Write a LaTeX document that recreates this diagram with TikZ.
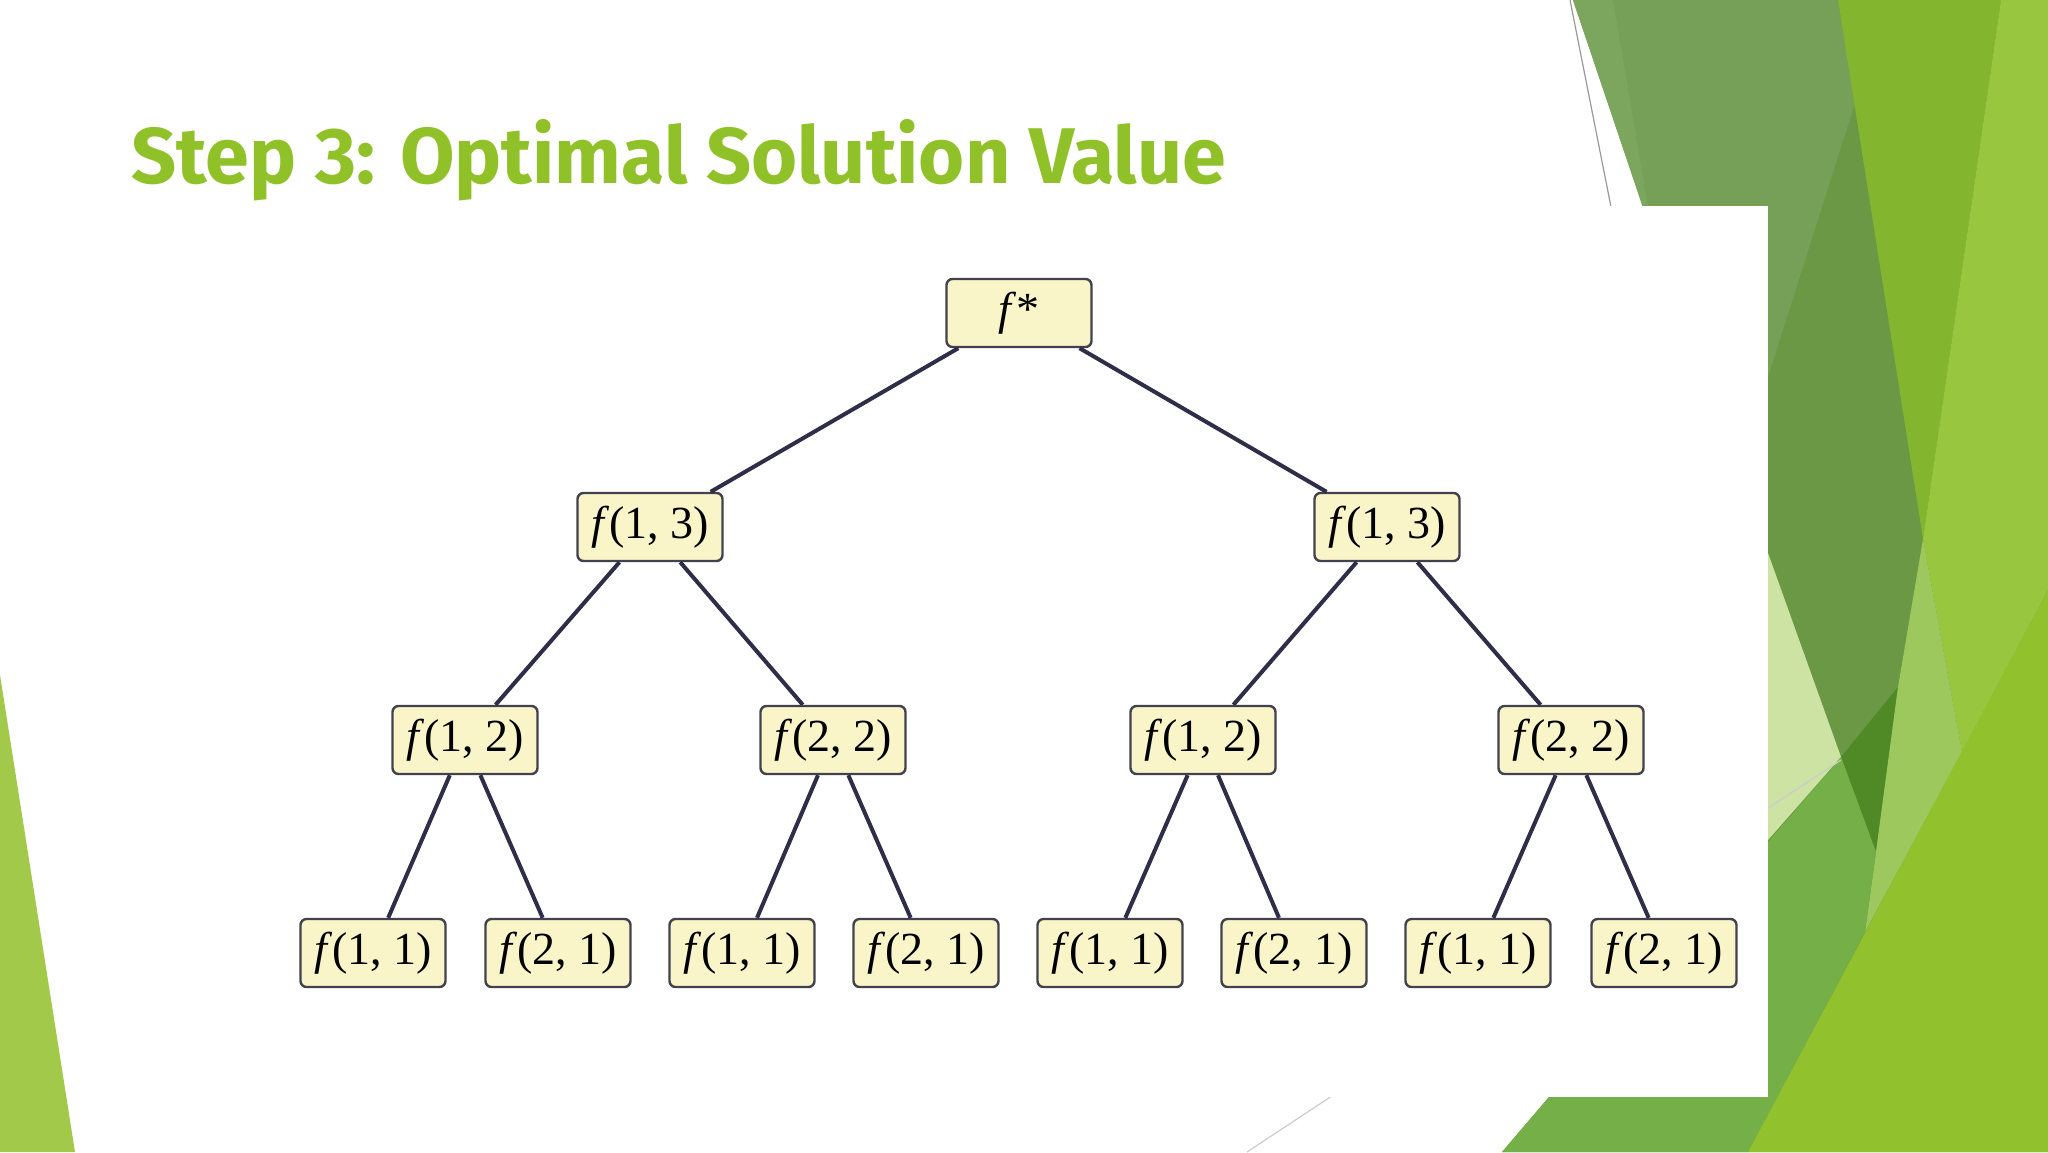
\documentclass[tikz,border=0pt]{standalone}
\usepackage{fontspec}
\setmainfont{Liberation Serif}
\newfontfamily\titlefont{Fira Sans}
\definecolor{titlegreen}{RGB}{144,193,40}
\definecolor{boxfill}{RGB}{249,245,200}
\definecolor{boxedge}{RGB}{66,66,78}
\definecolor{edgecol}{RGB}{46,46,72}
\definecolor{mutedgreen}{RGB}{118,159,88}
\definecolor{mutedlight}{RGB}{124,166,94}
\definecolor{darkgreen}{RGB}{106,152,68}
\definecolor{deepgreen}{RGB}{80,138,38}
\definecolor{palegreen}{RGB}{205,227,163}
\definecolor{brightgreen}{RGB}{132,181,47}
\definecolor{limegreen}{RGB}{152,198,62}
\definecolor{sagegreen}{RGB}{157,200,94}
\definecolor{midgreen}{RGB}{116,175,72}
\definecolor{lowgreen}{RGB}{146,193,46}
\definecolor{wedgegreen}{RGB}{162,201,74}
\begin{document}
\begin{tikzpicture}[x=0.5pt,y=-0.5pt,line join=bevel,
  fbox/.style={draw=boxedge,fill=boxfill,rounded corners=3pt,line width=1.2pt,
    minimum width=72.5pt,minimum height=34pt,inner sep=0pt,
    font=\fontsize{23}{23}\selectfont},
  tree/.style={draw=edgecol,line width=2pt}]
\useasboundingbox (0,0) rectangle (2048,1152);
\fill[white] (0,0) rectangle (2048,1152);
%% background facets
\fill[darkgreen] (1700,0) -- (2048,0) -- (2048,1152) -- (1502,1152) -- (1768,840) -- (1700,377) -- cycle;
\fill[mutedgreen] (1573,0) -- (1838,0) -- (1855,103) -- (1768,377) -- (1700,377) -- cycle;
\fill[mutedlight] (1573,0) -- (1613,0) -- (1648,207) -- (1643,207) -- cycle;
\fill[deepgreen] (1841,757) -- (1898,687) -- (1876,852) -- cycle;
\fill[palegreen] (1768,553) -- (1841,757) -- (1768,840) -- cycle;
\fill[brightgreen] (1838,0) -- (2001,0) -- (1923,539) -- cycle;
\fill[limegreen] (2001,0) -- (2048,0) -- (2048,590) -- (1962,752) -- (1923,539) -- cycle;
\fill[sagegreen] (1923,539) -- (1962,752) -- (1865,932) -- (1876,852) -- (1898,687) -- cycle;
\fill[midgreen] (1841,757) -- (1876,852) -- (1865,932) -- (1748,1152) -- (1502,1152) -- cycle;
\fill[lowgreen] (2048,590) -- (2048,1152) -- (1748,1152) -- cycle;
\fill[wedgegreen] (0,675) -- (75,1152) -- (0,1152) -- cycle;
\draw[gray!80,line width=0.6pt] (1570,0) -- (1611,207);
\draw[gray!40,line width=0.6pt] (1247,1152) -- (1841,760);
%% the picture itself
\fill[white] (250,206) rectangle (1768,1097);
%% title
\node[anchor=base west,inner sep=0pt,text=titlegreen,
  font=\titlefont\bfseries\fontsize{39.5}{40}\selectfont] (title) at (131,183)
  {Step 3: Optimal Solution Value};
%% Node: root
\node[fbox] (root) at (1019,313) {\textit{f}*};
%% Node: level 1
\node[fbox] (f13a) at (650,527) {\textit{f}(1, 3)};
\node[fbox] (f13b) at (1387,527) {\textit{f}(1, 3)};
%% Node: level 2
\node[fbox] (f12a) at (465,740) {\textit{f}(1, 2)};
\node[fbox] (f22a) at (833,740) {\textit{f}(2, 2)};
\node[fbox] (f12b) at (1203,740) {\textit{f}(1, 2)};
\node[fbox] (f22b) at (1571,740) {\textit{f}(2, 2)};
%% Node: leaves
\node[fbox] (f11a) at (373,953) {\textit{f}(1, 1)};
\node[fbox] (f21a) at (558,953) {\textit{f}(2, 1)};
\node[fbox] (f11b) at (742,953) {\textit{f}(1, 1)};
\node[fbox] (f21b) at (926,953) {\textit{f}(2, 1)};
\node[fbox] (f11c) at (1110,953) {\textit{f}(1, 1)};
\node[fbox] (f21c) at (1294,953) {\textit{f}(2, 1)};
\node[fbox] (f11d) at (1478,953) {\textit{f}(1, 1)};
\node[fbox] (f21d) at (1664,953) {\textit{f}(2, 1)};
%% Edge: root -> level 1
\draw[tree] (root) -- (f13a);
\draw[tree] (root) -- (f13b);
%% Edge: level 1 -> level 2
\draw[tree] (f13a) -- (f12a);
\draw[tree] (f13a) -- (f22a);
\draw[tree] (f13b) -- (f12b);
\draw[tree] (f13b) -- (f22b);
%% Edge: level 2 -> leaves
\draw[tree] (f12a) -- (f11a);
\draw[tree] (f12a) -- (f21a);
\draw[tree] (f22a) -- (f11b);
\draw[tree] (f22a) -- (f21b);
\draw[tree] (f12b) -- (f11c);
\draw[tree] (f12b) -- (f21c);
\draw[tree] (f22b) -- (f11d);
\draw[tree] (f22b) -- (f21d);
\end{tikzpicture}
\end{document}
